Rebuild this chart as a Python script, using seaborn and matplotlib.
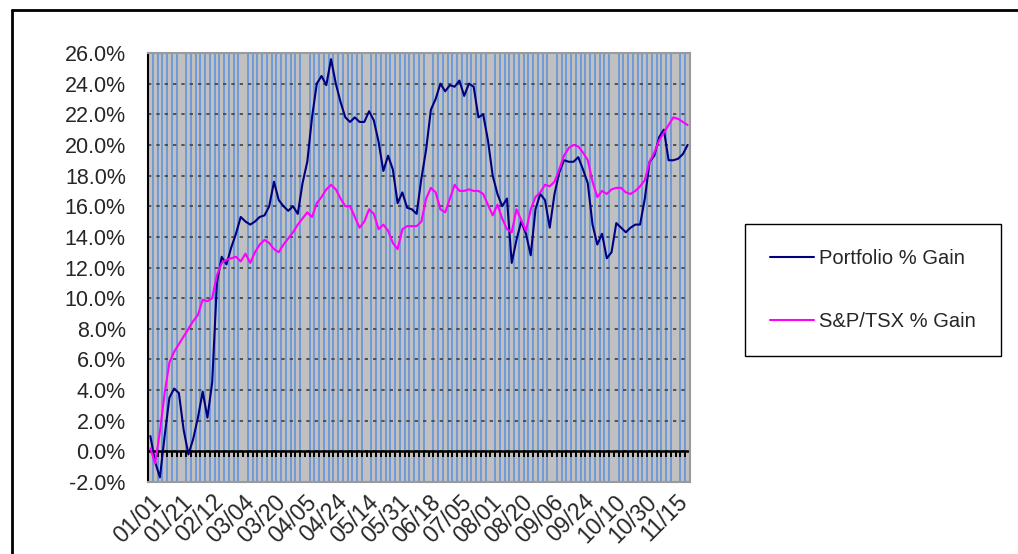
import numpy as np
import pandas as pd
import matplotlib
matplotlib.use("Agg")
import matplotlib.pyplot as plt
from matplotlib.lines import Line2D
from matplotlib.ticker import FuncFormatter
import seaborn as sns

# data, one value per two trading days (% gain since 01/01)
portfolio_gain = [
    1.0, -0.7, -1.7, 1.0, 3.5, 4.1, 3.8, 1.4, -0.2, 0.8,
    2.2, 3.9, 2.2, 4.5, 11.0, 12.7, 12.2, 13.3, 14.2, 15.3,
    15.0, 14.8, 15.0, 15.3, 15.4, 16.0, 17.6, 16.4, 16.0, 15.7,
    16.0, 15.5, 17.5, 18.9, 21.8, 24.0, 24.5, 23.9, 25.6, 24.0,
    22.8, 21.8, 21.5, 21.8, 21.5, 21.5, 22.2, 21.6, 20.2, 18.3,
    19.3, 18.4, 16.2, 16.9, 15.9, 15.8, 15.5, 17.8, 19.7, 22.3,
    23.0, 24.0, 23.5, 23.9, 23.8, 24.2, 23.2, 24.0, 23.8, 21.8,
    22.0, 20.3, 18.0, 16.8, 16.0, 16.5, 12.3, 13.8, 15.0, 14.2,
    12.8, 15.8, 16.8, 16.4, 14.6, 16.8, 18.2, 19.0, 18.9, 18.9,
    19.2, 18.4, 17.5, 14.8, 13.5, 14.2, 12.6, 13.0, 14.9, 14.6,
    14.3, 14.6, 14.8, 14.8, 16.5, 18.9, 19.3, 20.5, 21.0, 19.0,
    19.0, 19.1, 19.4, 20.0,
]
tsx_gain = [
    0.2, -0.8, 1.3, 3.8, 5.8, 6.5, 7.0, 7.5, 8.0, 8.5,
    8.9, 9.9, 9.8, 10.0, 11.5, 12.3, 12.5, 12.6, 12.7, 12.4,
    12.9, 12.3, 13.0, 13.5, 13.8, 13.6, 13.2, 13.0, 13.5, 13.9,
    14.3, 14.8, 15.2, 15.6, 15.3, 16.2, 16.6, 17.1, 17.4, 17.1,
    16.5, 16.0, 16.0, 15.3, 14.6, 15.0, 15.8, 15.5, 14.5, 14.8,
    14.4, 13.6, 13.2, 14.5, 14.7, 14.7, 14.7, 15.0, 16.5, 17.2,
    16.9, 15.8, 15.6, 16.5, 17.4, 17.0, 17.0, 17.1, 17.0, 17.0,
    16.8, 16.1, 15.4, 16.1, 15.2, 14.5, 14.3, 15.8, 15.1, 14.4,
    15.8, 16.6, 16.9, 17.4, 17.3, 17.6, 18.4, 19.3, 19.8, 20.0,
    19.9, 19.5, 19.0, 17.6, 16.6, 17.0, 16.8, 17.1, 17.2, 17.2,
    16.9, 16.8, 17.0, 17.3, 17.7, 18.9, 19.5, 20.3, 20.8, 21.3,
    21.8, 21.7, 21.5, 21.3,
]
date_labels = ["01/01", "01/21", "02/12", "03/04", "03/20", "04/05", "04/24",
               "05/14", "05/31", "06/18", "07/05", "08/01", "08/20", "09/06",
               "09/24", "10/10", "10/30", "11/15"]
series_names = ["Portfolio % Gain", "S&P/TSX % Gain"]

n = len(portfolio_gain)
idx = np.arange(n)
df = pd.DataFrame({
    "idx": np.concatenate([idx, idx]),
    "gain": portfolio_gain + tsx_gain,
    "series": [series_names[0]] * n + [series_names[1]] * n,
})

sns.set_style("white")
plt.rcParams["font.family"] = ["Liberation Sans", "DejaVu Sans"]

fig = plt.figure(figsize=(10.18, 5.54), dpi=100)
ax = fig.add_axes([148 / 1018, 72 / 554, 542 / 1018, 429 / 554])
ax.set_facecolor("#c0c0c0")

colors = {series_names[0]: "#000080", series_names[1]: "#ff00ff"}
sns.lineplot(data=df, x="idx", y="gain", hue="series", palette=colors,
             linewidth=1.5, ax=ax, legend=False, zorder=3)

ax.set_xlim(-0.5, n - 0.5)
ax.set_ylim(-2, 26)
ax.set_yticks(np.arange(-2, 27, 2))
ax.yaxis.set_major_formatter(FuncFormatter(lambda v, p: f"{v:.1f}%"))

# one vertical gridline per category, dotted horizontal gridlines
bounds = np.arange(-0.5, n, 1)
ax.set_xticks(bounds, minor=True)
ax.grid(which="minor", axis="x", color="#6a98d8", linewidth=1.3)
ax.grid(which="major", axis="y", color="#404040", linewidth=1.2,
        linestyle=(0, (2, 3)))
ax.grid(which="major", axis="x", visible=False)
ax.set_axisbelow(True)

label_pos = np.arange(len(date_labels)) * 6.5
ax.set_xticks(label_pos)
ax.set_xticklabels(date_labels, rotation=45, ha="right",
                   rotation_mode="anchor", fontsize=16.5)
ax.tick_params(axis="x", which="both", length=0, pad=6)
ax.tick_params(axis="y", labelsize=15.5, length=7, width=1.5,
               color="black", direction="out", pad=9)
ax.set_xlabel("")
ax.set_ylabel("")

for side in ["top", "right", "bottom"]:
    ax.spines[side].set_color("#9a9a9a")
    ax.spines[side].set_linewidth(1.5)
ax.spines["left"].set_color("black")
ax.spines["left"].set_linewidth(1.5)

# category axis crossing at 0% with a tick at each category boundary
ax.axhline(0, color="black", linewidth=1.8, zorder=2)
ax.vlines(bounds, -0.35, 0, color="black", linewidth=1.4, zorder=2)

handles = [Line2D([], [], color=colors[s], linewidth=1.5) for s in series_names]
fig.legend(handles, series_names, loc="center",
           bbox_to_anchor=(873 / 1018, 1 - 290 / 554), fontsize=14.5,
           frameon=True, fancybox=False, edgecolor="black", framealpha=1,
           borderpad=1.25, labelspacing=2.2, handlelength=2.2,
           handletextpad=0.25)

# chart frame
fig.add_artist(Line2D([12 / 1018, 1], [1 - 10 / 554, 1 - 10 / 554],
                      color="black", linewidth=2))
fig.add_artist(Line2D([12 / 1018, 12 / 1018], [0, 1 - 10 / 554],
                      color="black", linewidth=2))

fig.savefig("out.png", dpi=100)
